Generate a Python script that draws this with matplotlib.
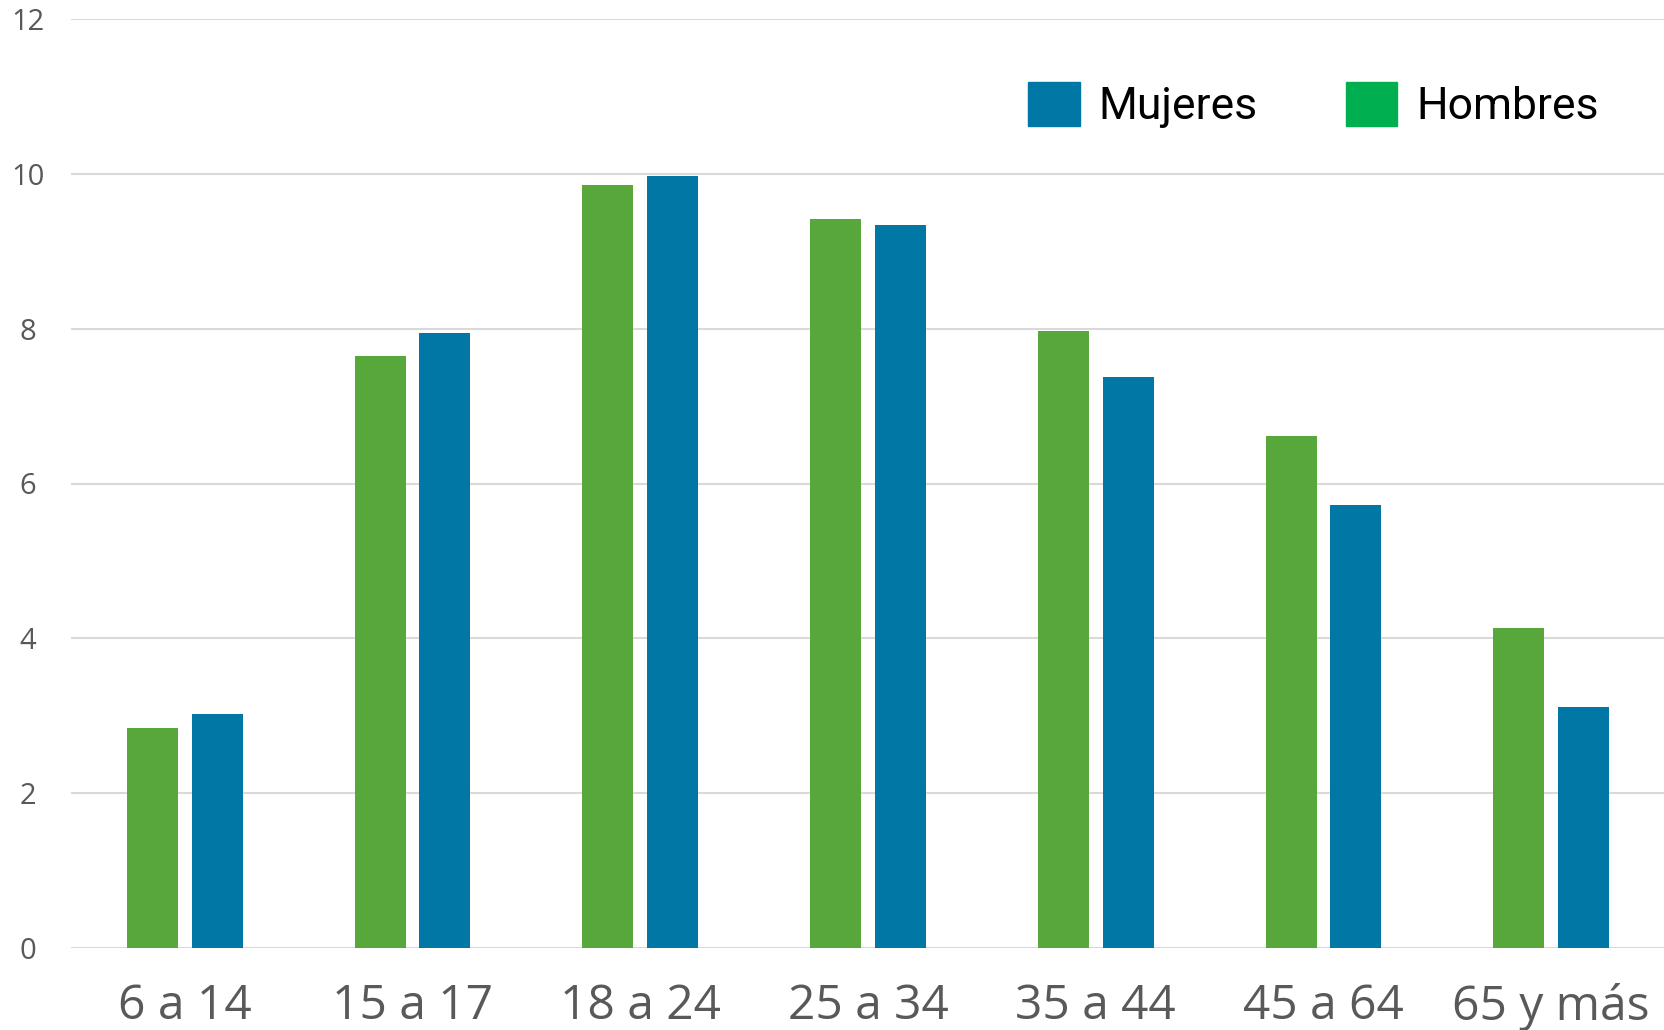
import matplotlib.pyplot as plt
from matplotlib.patches import Patch
import numpy as np

# data
grupos = ['6 a 14', '15 a 17', '18 a 24', '25 a 34', '35 a 44', '45 a 64', '65 y más']
hombres = [2.84, 7.65, 9.85, 9.42, 7.97, 6.61, 4.13]
mujeres = [3.02, 7.94, 9.97, 9.34, 7.38, 5.72, 3.11]
y_ticks = [0, 2, 4, 6, 8, 10, 12]

verde = '#58A73B'
azul = '#0077A4'
verde_leyenda = '#00B050'
gris = '#595959'

fig = plt.figure(figsize=(16.65, 10.30), dpi=100)
ax = fig.add_axes([71 / 1665, 1 - 948 / 1030, 1 - 71 / 1665, (948 - 19) / 1030])

x = np.arange(len(grupos))
ancho = 0.224
ax.bar(x - 0.142, hombres, width=ancho, color=verde, zorder=3)
ax.bar(x + 0.142, mujeres, width=ancho, color=azul, zorder=3)

ax.set_xlim(-0.5, len(grupos) - 0.5)
ax.set_ylim(0, 12)
ax.set_yticks(y_ticks)
ax.set_xticks(x)
ax.set_xticklabels(grupos)
ax.grid(axis='y', color='#D9D9D9', linewidth=1.5, zorder=0)
for s in ax.spines.values():
    s.set_visible(False)
ax.tick_params(axis='both', length=0, colors=gris)
ax.tick_params(axis='x', labelsize=34.5, pad=25)
ax.tick_params(axis='y', labelsize=21, pad=31)
for lab in ax.get_xticklabels() + ax.get_yticklabels():
    lab.set_family(['Open Sans', 'DejaVu Sans'])
for lab in ax.get_yticklabels():
    lab.set_horizontalalignment('center')

handles = [Patch(color=azul, label='Mujeres'), Patch(color=verde_leyenda, label='Hombres')]
fig.legend(handles=handles, loc='center right', bbox_to_anchor=(1621 / 1665, 1 - 105 / 1030),
           ncol=2, frameon=False, borderpad=0, handlelength=1.15, handleheight=1.15,
           handletextpad=0.42, columnspacing=2.0,
           prop={'family': ['Liberation Sans Narrow', 'Roboto', 'DejaVu Sans'], 'size': 32})

fig.savefig('out.png', dpi=100)
